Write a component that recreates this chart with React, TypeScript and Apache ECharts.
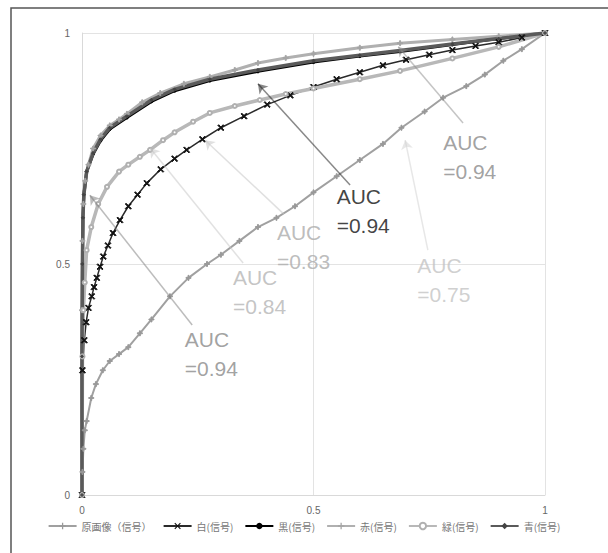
import React, { useEffect, useRef } from "react";
import * as echarts from "echarts";

const seriesNames = ["原画像（信号）", "白(信号)", "黒(信号)", "赤(信号)", "緑(信号)", "青(信号)"];

const originalPts: number[][] = [
  [0, 0], [0.001, 0.05], [0.003, 0.1], [0.006, 0.14], [0.01, 0.16], [0.02, 0.21], [0.03, 0.24],
  [0.045, 0.27], [0.06, 0.29], [0.08, 0.305], [0.1, 0.32], [0.125, 0.35], [0.15, 0.38],
  [0.19, 0.43], [0.23, 0.47], [0.27, 0.5], [0.3, 0.52], [0.34, 0.55], [0.38, 0.58],
  [0.42, 0.6], [0.46, 0.625], [0.5, 0.655], [0.55, 0.69], [0.6, 0.725], [0.65, 0.76],
  [0.69, 0.795], [0.74, 0.83], [0.78, 0.86], [0.83, 0.885], [0.87, 0.91], [0.91, 0.94],
  [0.95, 0.965], [1, 1],
];
const whitePts: number[][] = [
  [0, 0], [0.001, 0.27], [0.005, 0.335], [0.009, 0.374], [0.014, 0.405], [0.021, 0.43],
  [0.026, 0.45], [0.032, 0.47], [0.039, 0.494], [0.046, 0.516], [0.056, 0.54], [0.067, 0.567],
  [0.082, 0.595], [0.1, 0.625], [0.12, 0.65], [0.14, 0.675], [0.17, 0.705], [0.2, 0.728],
  [0.226, 0.747], [0.26, 0.77], [0.3, 0.795], [0.35, 0.82], [0.4, 0.845], [0.45, 0.865],
  [0.5, 0.883], [0.55, 0.9], [0.6, 0.915], [0.65, 0.93], [0.7, 0.942], [0.75, 0.953],
  [0.8, 0.963], [0.85, 0.972], [0.9, 0.98], [0.95, 0.99], [1, 1],
];
const blackPts: number[][] = [
  [0, 0], [0, 0.3], [0.001, 0.5], [0.002, 0.6], [0.004, 0.65], [0.01, 0.7], [0.024, 0.738],
  [0.04, 0.767], [0.06, 0.792], [0.097, 0.817], [0.15, 0.852], [0.2, 0.875], [0.276, 0.897],
  [0.38, 0.917], [0.5, 0.937], [0.6, 0.95], [0.687, 0.96], [0.8, 0.975], [0.9, 0.988], [1, 1],
];
const redPts: number[][] = [
  [0, 0], [0, 0.4], [0.001, 0.55], [0.003, 0.63], [0.007, 0.68], [0.014, 0.715], [0.024, 0.75],
  [0.04, 0.778], [0.06, 0.8], [0.08, 0.813], [0.097, 0.825], [0.13, 0.85], [0.169, 0.87],
  [0.22, 0.89], [0.276, 0.905], [0.33, 0.92], [0.38, 0.935], [0.44, 0.946], [0.5, 0.955],
  [0.6, 0.968], [0.687, 0.978], [0.8, 0.986], [0.9, 0.993], [1, 1],
];
const greenPts: number[][] = [
  [0, 0], [0.001, 0.3], [0.003, 0.4], [0.006, 0.46], [0.01, 0.53], [0.02, 0.58], [0.035, 0.63],
  [0.054, 0.667], [0.08, 0.7], [0.1, 0.715], [0.125, 0.732], [0.147, 0.747], [0.175, 0.768],
  [0.2, 0.785], [0.24, 0.808], [0.276, 0.827], [0.33, 0.842], [0.384, 0.855], [0.44, 0.868],
  [0.5, 0.88], [0.6, 0.9], [0.687, 0.918], [0.8, 0.945], [0.9, 0.97], [1, 1],
];
const bluePts: number[][] = [
  [0, 0], [0, 0.3], [0.001, 0.5], [0.002, 0.6], [0.004, 0.65], [0.01, 0.7], [0.024, 0.74],
  [0.04, 0.77], [0.06, 0.795], [0.097, 0.82], [0.15, 0.855], [0.2, 0.878], [0.276, 0.9],
  [0.38, 0.92], [0.5, 0.94], [0.6, 0.952], [0.687, 0.962], [0.8, 0.976], [0.9, 0.988], [1, 1],
];

const aucTexts = ["AUC\n=0.94", "AUC\n=0.94", "AUC\n=0.83", "AUC\n=0.84", "AUC\n=0.75", "AUC\n=0.94"];
const aucTextPos: number[][] = [
  [0.78, 0.794], [0.55, 0.677], [0.421, 0.6], [0.326, 0.502], [0.724, 0.528], [0.222, 0.368],
];
const aucArrowTail: number[][] = [
  [0.823, 0.805], [0.579, 0.671], [0.436, 0.608], [0.348, 0.502], [0.747, 0.53], [0.238, 0.368],
];
const aucArrowTip: number[][] = [
  [0.683, 0.97], [0.38, 0.89], [0.266, 0.768], [0.147, 0.751], [0.698, 0.768], [0.017, 0.649],
];
const aucTextColors = ["#8a8a8a", "#111111", "#ababab", "#b5b5b5", "#c4c4c4", "#8a8a8a"];
const aucArrowColors = ["#8a8a8a", "#111111", "#c2c2c2", "#c4c4c4", "#d0d0d0", "#7a7a7a"];

const xTicks = [0, 0.5, 1];

const PLUS = "path://M-0.2,-1H0.2V-0.2H1V0.2H0.2V1H-0.2V0.2H-1V-0.2H-0.2Z";
const CROSS =
  "path://M-1,-0.75L-0.75,-1L0,-0.25L0.75,-1L1,-0.75L0.25,0L1,0.75L0.75,1L0,0.25L-0.75,1L-1,0.75L-0.25,0Z";

export default function App() {
  const ref = useRef<HTMLDivElement>(null);
  useEffect(() => {
    if (!ref.current) return;
    const chart = echarts.init(ref.current, null, { renderer: "svg" });
    const lineSeries = (
      name: string,
      data: number[][],
      color: string,
      width: number,
      symbol: string,
      symbolSize: number,
      symbolColor: string,
      z: number
    ) => ({
      name,
      type: "line",
      data,
      showSymbol: true,
      symbol,
      symbolSize,
      lineStyle: { color, width },
      itemStyle: { color: symbolColor, borderColor: symbolColor },
      emphasis: { disabled: true },
      z,
    });
    const series: any[] = [
      lineSeries(seriesNames[0], originalPts, "#a0a0a0", 2, PLUS, 5, "#999999", 3),
      lineSeries(seriesNames[1], whitePts, "#2a2a2a", 1.5, CROSS, 6, "#111111", 3),
      lineSeries(seriesNames[2], blackPts, "#000000", 3, "circle", 3, "#000000", 2),
      lineSeries(seriesNames[3], redPts, "#b0b0b0", 3, PLUS, 5, "#a5a5a5", 3),
      lineSeries(seriesNames[4], greenPts, "#b8b8b8", 3.5, "emptyCircle", 4, "#b0b0b0", 3),
      lineSeries(seriesNames[5], bluePts, "#5a5a5a", 3.5, "diamond", 3, "#444444", 3),
      {
        type: "lines",
        coordinateSystem: "cartesian2d",
        silent: true,
        symbol: ["none", "arrow"],
        symbolSize: 9,
        z: 5,
        data: aucArrowTail.map((t, i) => ({
          coords: [t, aucArrowTip[i]],
          lineStyle: { color: aucArrowColors[i], width: 1.5 },
        })),
      },
      {
        type: "scatter",
        silent: true,
        symbolSize: 0,
        z: 6,
        data: aucTextPos.map((p, i) => ({
          value: p,
          label: {
            show: true,
            position: [0, 0],
            align: "left",
            verticalAlign: "top",
            formatter: aucTexts[i],
            color: aucTextColors[i],
            fontSize: 21,
            lineHeight: 29,
            fontFamily: "Liberation Sans, Arial, sans-serif",
          },
        })),
      },
    ];
    chart.setOption({
      animation: false,
      backgroundColor: "#ffffff",
      grid: { left: 82, right: 63, top: 33, bottom: 58, containLabel: false },
      xAxis: {
        type: "value",
        min: 0,
        max: 1,
        interval: 0.5,
        axisLine: { show: true, lineStyle: { color: "#d9d9d9" } },
        axisTick: { show: false },
        splitLine: { show: true, lineStyle: { color: "#e3e3e3" } },
        axisLabel: {
          color: "#666",
          fontSize: 10,
          margin: 10,
          fontFamily: "Liberation Sans, Arial, sans-serif",
          formatter: (v: number) => (xTicks.includes(v) ? String(v) : ""),
        },
      },
      yAxis: {
        type: "value",
        min: 0,
        max: 1,
        interval: 0.5,
        axisLine: { show: true, lineStyle: { color: "#d9d9d9" } },
        axisTick: { show: false },
        splitLine: { show: true, lineStyle: { color: "#e3e3e3" } },
        axisLabel: {
          color: "#666",
          fontSize: 10,
          margin: 12,
          fontFamily: "Liberation Sans, Arial, sans-serif",
        },
      },
      legend: {
        data: seriesNames,
        top: 516,
        left: "center",
        itemWidth: 28,
        itemHeight: 8,
        itemGap: 11,
        textStyle: { color: "#777", fontSize: 10, fontFamily: "Noto Sans CJK JP, sans-serif" },
        selectedMode: false,
      },
      graphic: [
        {
          type: "polyline",
          shape: { points: [[11, 553], [11, 8], [608, 8]] },
          style: { stroke: "#555", lineWidth: 1.5, fill: "none" },
          silent: true,
        },
      ],
      series,
    });
    return () => chart.dispose();
  }, []);
  return (
    <div
      ref={ref}
      style={{ position: "absolute", left: 0, top: 0, width: 608, height: 553, background: "#fff" }}
    />
  );
}
